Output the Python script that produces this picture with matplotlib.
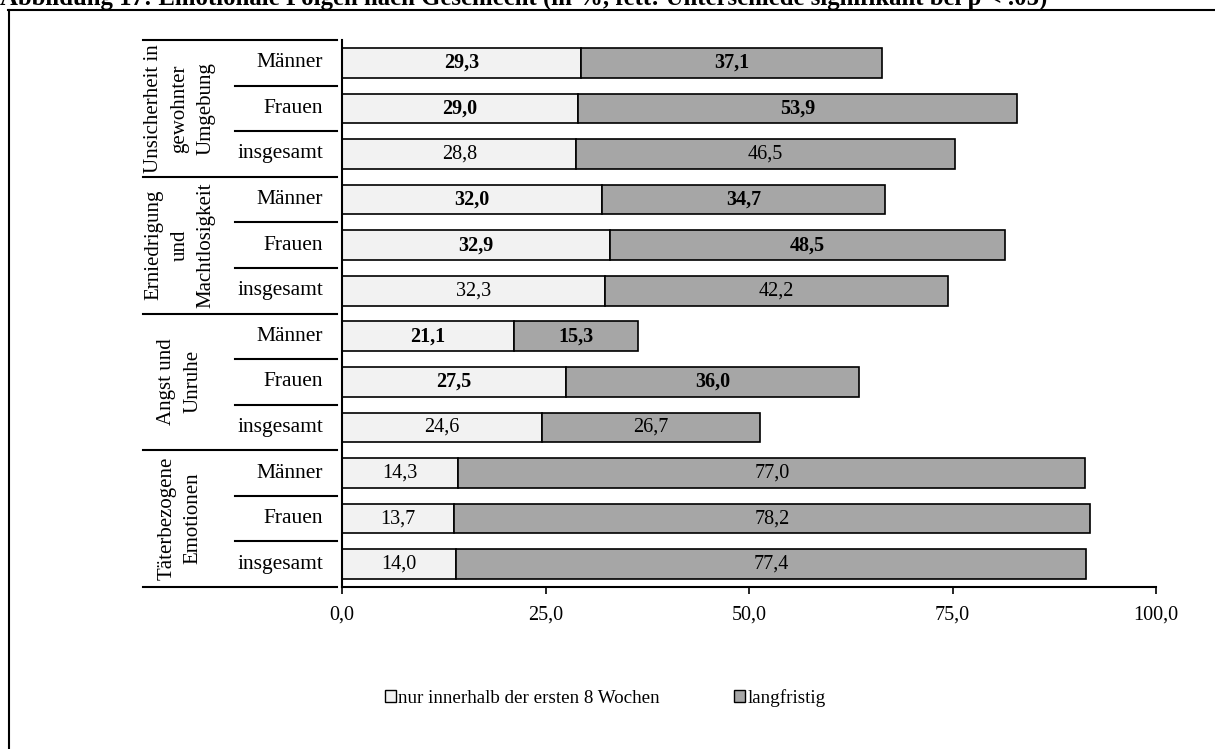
import matplotlib
matplotlib.use('Agg')
import matplotlib.pyplot as plt
from matplotlib.lines import Line2D
from matplotlib.patches import Patch
import matplotlib.transforms as mtransforms

plt.rcParams['font.family'] = ['Liberation Serif', 'DejaVu Serif']

# Daten (von oben nach unten)
gruppen = ['Unsicherheit in\ngewohnter\nUmgebung',
           'Erniedrigung\nund\nMachtlosigkeit',
           'Angst und\nUnruhe',
           'Täterbezogene\nEmotionen']
untergruppen = ['Männer', 'Frauen', 'insgesamt']
kurz = [29.3, 29.0, 28.8, 32.0, 32.9, 32.3, 21.1, 27.5, 24.6, 14.3, 13.7, 14.0]
lang = [37.1, 53.9, 46.5, 34.7, 48.5, 42.2, 15.3, 36.0, 26.7, 77.0, 78.2, 77.4]
fett = [True, True, False, True, True, False, True, True, False, False, False, False]
xticks = [0, 25, 50, 75, 100]
titel = 'Abbildung 17: Emotionale Folgen nach Geschlecht (in %, fett: Unterschiede signifikant bei p < .05)'

W, H = 1215, 749
fig = plt.figure(figsize=(W / 100, H / 100), dpi=100)
ax = fig.add_axes([342 / W, 1 - 587 / H, 814 / W, 547 / H])

n = len(kurz)
y = list(range(n))
ax.barh(y, kurz, height=0.65, color='#f2f2f2', edgecolor='black', linewidth=1.2,
        label='nur innerhalb der ersten 8 Wochen')
ax.barh(y, lang, left=kurz, height=0.65, color='#a6a6a6', edgecolor='black', linewidth=1.2,
        label='langfristig')

for i in range(n):
    w = 'bold' if fett[i] else 'normal'
    ax.text(kurz[i] / 2, i, f'{kurz[i]:.1f}'.replace('.', ','), ha='center', va='center',
            fontsize=14.5, fontweight=w)
    ax.text(kurz[i] + lang[i] / 2, i, f'{lang[i]:.1f}'.replace('.', ','), ha='center', va='center',
            fontsize=14.5, fontweight=w)

ax.set_xlim(0, 100)
ax.set_ylim(n - 0.5, -0.5)
ax.set_xticks(xticks)
ax.set_xticklabels([f'{t:.1f}'.replace('.', ',') for t in xticks], fontsize=14.5)
ax.tick_params(axis='x', length=5, width=1.2, pad=8)
ax.set_yticks([])
for s in ['top', 'right']:
    ax.spines[s].set_visible(False)
ax.spines['left'].set_linewidth(1.5)
ax.spines['bottom'].set_linewidth(1.5)

# Tabelle links
trans = mtransforms.blended_transform_factory(ax.transAxes, ax.transData)
x_grp = (143 - 342) / 814
x_sub = (235 - 342) / 814
for k in range(n + 1):
    yb = k - 0.5
    x0 = x_grp if k % 3 == 0 else x_sub
    ax.add_line(Line2D([x0, -0.006], [yb, yb], transform=trans, color='black',
                       linewidth=1.5, clip_on=False))
for i in range(n):
    ax.text((323 - 342) / 814, i, untergruppen[i % 3], transform=trans, ha='right',
            va='center', fontsize=15.5)
for g, name in enumerate(gruppen):
    ax.text((180 - 342) / 814, 3 * g + 1, name, transform=trans, ha='center', va='center',
            rotation=90, fontsize=15, linespacing=1.5)

# Legende
handles = [Patch(facecolor='#f2f2f2', edgecolor='black', label='nur innerhalb der ersten 8 Wochen'),
           Patch(facecolor='#a6a6a6', edgecolor='black', label='langfristig')]
fig.legend(handles=handles, loc='center', bbox_to_anchor=(0.498, 1 - 698 / H), ncol=2,
           frameon=False, fontsize=13.7, handlelength=0.6, handleheight=0.6,
           handletextpad=0.1, columnspacing=3.9)

# Rahmen und Titel
fig.add_artist(Line2D([8.5 / W, 8.5 / W], [0, 1 - 10 / H], color='black', linewidth=1.5))
fig.add_artist(Line2D([8 / W, 1], [1 - 10 / H, 1 - 10 / H], color='black', linewidth=1.5))
fig.text(0.0, 1 - 5 / H, titel, ha='left', va='baseline', fontsize=17.8, fontweight='bold')

fig.savefig('out.png', dpi=100)
